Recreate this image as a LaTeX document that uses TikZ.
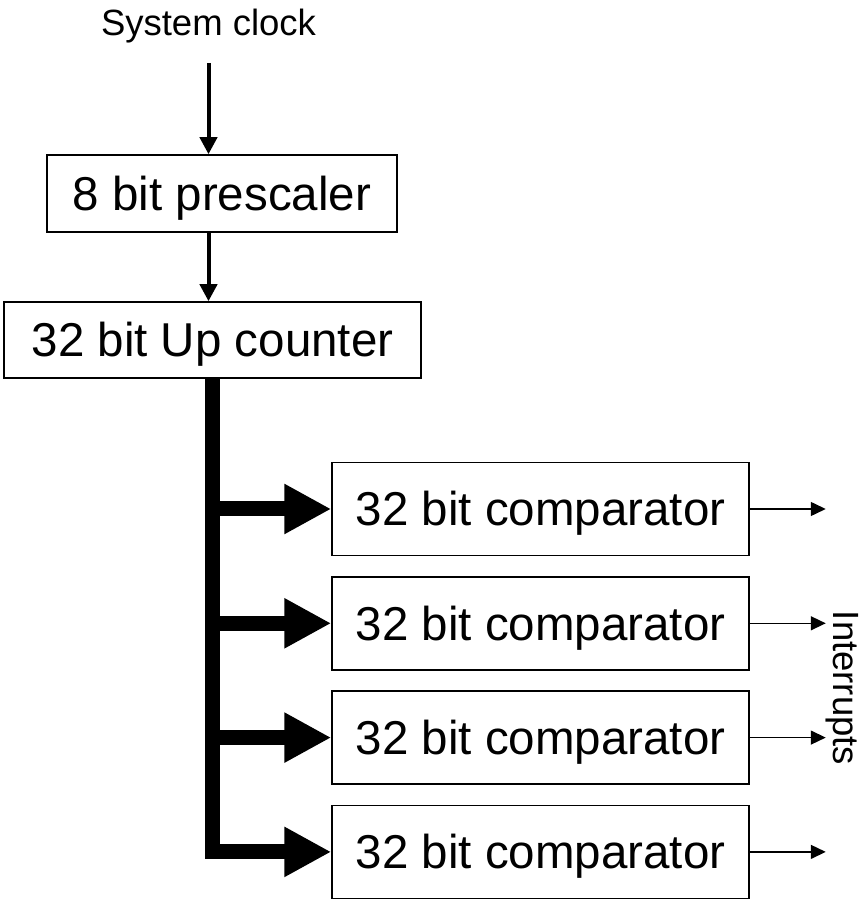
\documentclass[tikz,border=0pt]{standalone}
\usepackage{fontspec}
\setmainfont{Liberation Sans}
\usetikzlibrary{math,arrows.meta}

\begin{document}
\begin{tikzpicture}[x=1pt,y=1pt,
    box/.style={draw, line width=1.5pt, inner sep=0pt, text height=34pt, text depth=0pt, font=\fontsize{47.5}{57}\selectfont},
    smalltext/.style={font=\fontsize{36.5}{44}\selectfont, inner sep=0pt},
    flow/.style={line width=4pt, -{Triangle[length=17pt,width=17pt]}},
    bus/.style={line width=15pt, -{Triangle[length=47pt,width=47pt]}},
    irq/.style={line width=1.5pt, -{Triangle[length=15pt,width=14pt]}}]
      \tikzmath{\w = 863; \h = 899; \cx = 540.5; \dy = 114.3;}
      \useasboundingbox (0,0) rectangle (\w,\h);
      \node[smalltext, anchor=base] (clock) at (208.5,863) {System clock};
      \node[box, minimum width=350pt, minimum height=77pt] (pre) at (222,705.5) {8 bit prescaler};
      \node[box, minimum width=417pt, minimum height=76pt] (counter) at (212.5,559) {32 bit Up counter};
      \foreach \i in {1,...,4} {
        \node[box, minimum width=417pt, minimum height=93pt] (comp\i) at (\cx,{390-(\i-1)*\dy}) {32 bit comparator};
        \coordinate (irq\i) at ([xshift=76pt]comp\i.east);
      }
      \coordinate (src) at ([yshift=-19pt]clock.south);
      \draw[flow] (src) -- (src |- pre.north);
      \draw[flow] (src |- pre.south) -- (src |- counter.north);
      \draw[bus] (counter.south) |- (comp4.west);
      \foreach \i in {1,2,3}
        \draw[bus] (counter.south |- comp\i.west) -- (comp\i.west);
      \foreach \i in {1,...,4}
        \draw[irq] (comp\i.east) -- (irq\i);
      \node[smalltext, rotate=-90, anchor=base] (intr) at (833,211) {Interrupts};
\end{tikzpicture}
\end{document}
